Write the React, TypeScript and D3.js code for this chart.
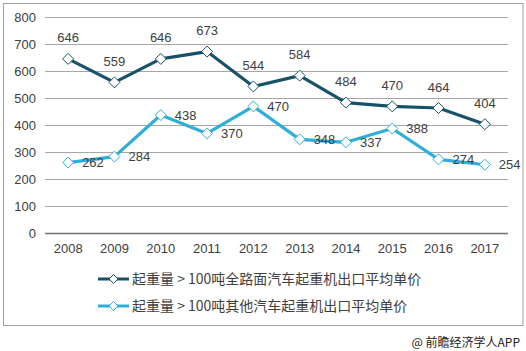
import React from "react";
import * as d3 from "d3";

const years = ["2008", "2009", "2010", "2011", "2012", "2013", "2014", "2015", "2016", "2017"];
const allTerrain = [646, 559, 646, 673, 544, 584, 484, 470, 464, 404];
const otherTruck = [262, 284, 438, 370, 470, 348, 337, 388, 274, 254];
const yTicks = [0, 100, 200, 300, 400, 500, 600, 700, 800];
const seriesNames = [
  "起重量 > 100吨全路面汽车起重机出口平均单价",
  "起重量 > 100吨其他汽车起重机出口平均单价",
];
const source = "@ 前瞻经济学人APP";

const width = 526;
const height = 351;
const plot = { left: 45, right: 508, top: 17.3, bottom: 233.3 };
const darkColor = "#175268";
const lightColor = "#2eaed9";
const numFont = "'Liberation Sans', Arial, sans-serif";
const cjkFont = "'Noto Sans CJK SC', 'Liberation Sans', sans-serif";

function diamond(x: number, y: number, r: number) {
  return `M${x},${y - r}L${x + r},${y}L${x},${y + r}L${x - r},${y}Z`;
}

export default function App() {
  const x = d3.scaleBand().domain(years).range([plot.left, plot.right]);
  const y = d3.scaleLinear().domain([0, 800]).range([plot.bottom, plot.top]);
  const cx = (yr: string) => (x(yr) as number) + x.bandwidth() / 2;

  const line = d3
    .line<number>()
    .x((_, i) => cx(years[i]))
    .y((d) => y(d));

  const series = [
    { name: seriesNames[0], values: allTerrain, color: darkColor, pos: "above" },
    { name: seriesNames[1], values: otherTruck, color: lightColor, pos: "right" },
  ];

  return (
    <svg width={width} height={height} style={{ position: "absolute", left: 0, top: 0, background: "#fff" }}>
      <rect x={3.5} y={3.5} width={519.5} height={322} fill="#fff" stroke="#a0a0a0" />
      {yTicks.map((t) => (
        <g key={t}>
          <line x1={plot.left} x2={plot.right} y1={Math.round(y(t)) + 0.5} y2={Math.round(y(t)) + 0.5}
            stroke={t === 0 ? "#707070" : "#a6a6a6"} strokeWidth={t === 0 ? 1.3 : 1} />
          <text x={36} y={y(t)} dy="0.35em" textAnchor="end" fontSize={13} fontFamily={numFont} fill="#404040">
            {t}
          </text>
        </g>
      ))}
      {years.map((yr) => (
        <text key={yr} x={cx(yr)} y={248} dy="0.35em" textAnchor="middle" fontSize={13} fontFamily={numFont} fill="#404040">
          {yr}
        </text>
      ))}
      {series.map((s) => (
        <g key={s.name}>
          <path d={line(s.values) || ""} fill="none" stroke={s.color} strokeWidth={3.2} strokeLinejoin="round" />
          {s.values.map((v, i) => (
            <path key={i} d={diamond(cx(years[i]), y(v), 5.5)} fill="#fff" stroke={s.color} strokeWidth={1} />
          ))}
          {s.values.map((v, i) =>
            s.pos === "above" ? (
              <text key={"l" + i} x={cx(years[i])} y={y(v) - 21} dy="0.35em" textAnchor="middle"
                fontSize={13} fontFamily={numFont} fill="#404040">{v}</text>
            ) : (
              <text key={"l" + i} x={cx(years[i]) + 14} y={y(v)} dy="0.35em" textAnchor="start"
                fontSize={13} fontFamily={numFont} fill="#404040">{v}</text>
            )
          )}
        </g>
      ))}
      {series.map((s, i) => {
        const ly = 279 + i * 27;
        return (
          <g key={"lg" + i}>
            <line x1={98} x2={129} y1={ly} y2={ly} stroke={s.color} strokeWidth={3} />
            <path d={diamond(113.5, ly, 4.5)} fill="#fff" stroke={s.color} strokeWidth={1} />
            <text x={132} y={ly} dy="0.35em" fontSize={14} fontFamily={cjkFont} fill="#404040">{s.name}</text>
          </g>
        );
      })}
      <text x={520} y={343} dy="0.35em" textAnchor="end" fontSize={12} fontFamily={cjkFont} fill="#222">
        {source}
      </text>
    </svg>
  );
}
